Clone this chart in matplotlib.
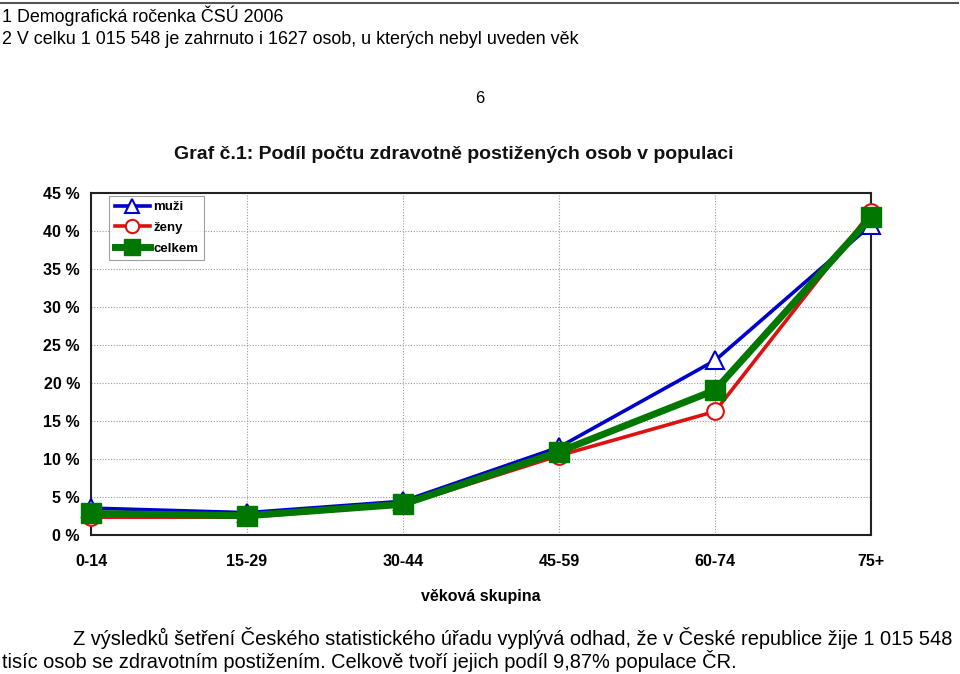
import matplotlib.pyplot as plt
import numpy as np

plt.rcParams["font.family"] = ["Liberation Sans", "DejaVu Sans"]

groups = ["0-14", "15-29", "30-44", "45-59", "60-74", "75+"]
muzi = [3.6, 3.0, 4.5, 11.6, 23.0, 40.8]
zeny = [2.4, 2.4, 4.0, 10.5, 16.3, 42.5]
celkem = [2.9, 2.6, 4.1, 11.0, 19.1, 41.8]
yticks = [0, 5, 10, 15, 20, 25, 30, 35, 40, 45]

fig = plt.figure(figsize=(9.6, 6.74), dpi=100)
ax = fig.add_axes([0.0948, 0.2055, 0.8125, 0.5081])

x = np.arange(len(groups))
ax.plot(x, muzi, color="#0000cc", lw=2.6, marker="^", ms=13,
        mfc="white", mec="#0000cc", mew=1.5, label="muži", zorder=3, clip_on=False)
ax.plot(x, zeny, color="#dd1111", lw=2.6, marker="o", ms=12,
        mfc="white", mec="#dd1111", mew=1.5, label="ženy", zorder=4, clip_on=False)
ax.plot(x, celkem, color="#007700", lw=5, marker="s", ms=15,
        mfc="#007700", mec="#007700", label="celkem", zorder=5, clip_on=False)

ax.set_xlim(0, len(groups) - 1)
ax.set_ylim(0, 45)
ax.set_xticks(x)
ax.set_xticklabels(groups, fontsize=11.5, fontweight="bold")
ax.set_yticks(yticks)
ax.set_yticklabels([f"{v} %" for v in yticks], fontsize=11.5, fontweight="bold")
ax.tick_params(length=0, pad=8)
ax.tick_params(axis="x", pad=13.5)
ax.grid(True, color="#999999", ls=(0, (1, 1.5)), lw=0.8)
ax.set_axisbelow(True)
for s in ax.spines.values():
    s.set_linewidth(1.5)
    s.set_color("#222222")

ax.set_xlabel("věková skupina", fontsize=11.5, fontweight="bold", labelpad=14)
ax.set_title("Graf č.1: Podíl počtu zdravotně postižených osob v populaci",
             fontsize=14, fontweight="bold", pad=24.5, x=0.465, color="#111111")

leg = ax.legend(loc="upper left", bbox_to_anchor=(0.02, 1.0), borderaxespad=0.2,
                prop={"weight": "bold", "size": 9.5}, frameon=True,
                fancybox=False, edgecolor="#888888", handlelength=2.7,
                borderpad=0.4, labelspacing=0.65, handletextpad=0.25,
                markerscale=0.8)
leg.get_frame().set_linewidth(0.8)

fig.add_artist(plt.Line2D([0, 0.998], [0.995, 0.995], color="#555555", lw=1.5))
fig.text(0.002, 0.977, "1 Demografická ročenka ČSÚ 2006", fontsize=12.9, va="center")
fig.text(0.002, 0.942, "2 V celku 1 015 548 je zahrnuto i 1627 osob, u kterých nebyl uveden věk",
         fontsize=12.9, va="center")
fig.text(0.5, 0.854, "6", fontsize=12, ha="center", va="center")
fig.text(0.076, 0.054,
         "Z výsledků šetření Českého statistického úřadu vyplývá odhad, že v České republice žije 1 015 548",
         fontsize=14.4, va="center")
fig.text(0.002, 0.019,
         "tisíc osob se zdravotním postižením. Celkově tvoří jejich podíl 9,87% populace ČR.",
         fontsize=14.4, va="center")

fig.savefig("out.png", dpi=100)
